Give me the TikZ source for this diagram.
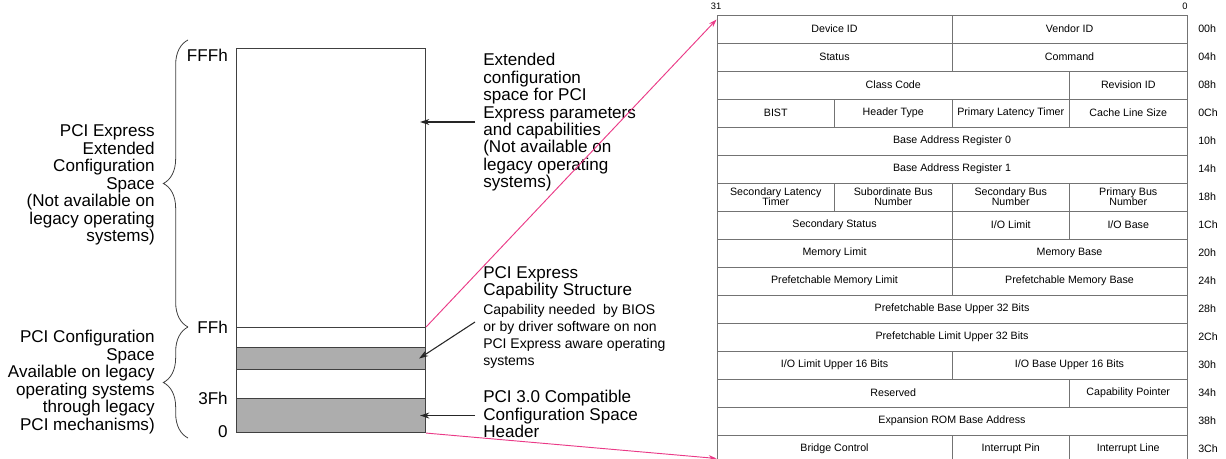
\documentclass[tikz,border=0pt]{standalone}
\usepackage{fontspec}
\setmainfont{Liberation Sans}
\usetikzlibrary{arrows.meta,calc,decorations.pathreplacing}

% one cell of the header table: row, first column, last column, text
\newcommand{\regcell}[4]{%
  \pgfmathsetmacro{\rcx}{717+(#2+#3)*58.75}%
  \pgfmathsetmacro{\rcy}{15+(#1+0.5)*28}%
  \pgfmathsetmacro{\rcw}{(#3-#2)*88.125}%
  \node[regcell, minimum width=\rcw pt] (r#1c#2) at (\rcx,\rcy) {#4};%
}

\begin{document}
\begin{tikzpicture}[x=0.75pt, y=-0.75pt,
  seg/.style={draw=black!75, line width=0.8pt, inner sep=0pt,
    minimum width=141.75pt, anchor=north west},
  regcell/.style={draw=black!55, line width=0.7pt, inner sep=0pt,
    minimum height=21pt, align=center, font=\fontsize{8}{7.6}\selectfont},
  offs/.style={font=\fontsize{8}{9}\selectfont, anchor=west, inner sep=0pt},
  bitno/.style={font=\fontsize{7}{8}\selectfont, inner sep=0pt},
  addr/.style={font=\fontsize{12.8}{13}\selectfont, anchor=east, inner sep=0pt},
  side/.style={font=\fontsize{12.8}{13.1}\selectfont, align=right, anchor=east, inner sep=0pt},
  note/.style={font=\fontsize{12.8}{13.1}\selectfont, align=left, anchor=north west,
    inner xsep=6pt, inner ysep=0pt},
  smallnote/.style={note, font=\fontsize{10.5}{12.8}\selectfont},
  brc/.style={decorate, decoration={brace, amplitude=18.5pt}, black!75, line width=0.6pt},
  pointer/.style={-{Stealth[length=7pt, width=4.5pt]}, black!85, line width=0.8pt},
  jump/.style={-{Stealth[length=6pt, width=4pt]}, linkpink, line width=0.7pt}]

\definecolor{linkpink}{RGB}{234,58,135}
\colorlet{memgray}{black!32}

\useasboundingbox (0,0) rectangle (1226,459);

%% memory map
\node[seg, minimum height=209.25pt] (ext) at (236,48) {};
\node[seg, minimum height=15pt] (w1) at (236,327) {};
\node[seg, fill=memgray, minimum height=16.5pt] (cap) at (236,347) {};
\node[seg, minimum height=21.75pt] (w2) at (236,369) {};
\node[seg, fill=memgray, minimum height=25.5pt] (hdr) at (236,398) {};

\node[addr] (aFFF) at (228,55) {FFFh};
\node[addr] (aFF) at (228,327) {FFh};
\node[addr] (a3F) at (228,398) {3Fh};
\node[addr] (a0) at (228,432) {0};

%% braces and their labels
\coordinate (bA) at (188,40);
\coordinate (bB) at (188,327);
\coordinate (bC) at (188,438);
\draw[brc] (bB) -- (bA);
\draw[brc] (bC) -- (bB);

\node[side] (extside) at (155,185)
  {PCI Express\\Extended\\Configuration\\Space\\(Not available on\\legacy operating\\systems)};
\node[side] (cfgside) at (155,382)
  {PCI Configuration\\Space\\Available on legacy\\operating systems\hspace*{3pt}\\through legacy\\PCI mechanisms)};

%% notes on the right of the map
\node[note] (extnote) at (475,53)
  {Extended\\configuration\\space for PCI\\Express parameters\\and capabilities\\(Not available on\\legacy operating\\systems)};
\node[note] (captitle) at (475,266) {PCI Express\\Capability Structure};
\node[smallnote] (capbody) at (475,304)
  {Capability needed\ \ by BIOS\\or by driver software on non\\PCI Express aware operating\\systems};
\node[note] (hdrnote) at (475,390) {PCI 3.0 Compatible\\Configuration Space\\Header};

\draw[pointer] (extnote.west |- 0,122) -- ($(ext.east |- 0,122)+(-6,0)$);
\draw[pointer] (capbody.west |- 0,322) -- ($(cap.east)+(-7,0)$);
\draw[pointer] (hdrnote.west |- hdr.east) -- ($(hdr.east)+(-6,0)$);

%% type 1 header table
\node[bitno] (bit31) at (716,6) {31};
\node[bitno] (bit0) at (1185,6) {0};

\regcell{0}{0}{2}{Device ID}
\regcell{0}{2}{4}{Vendor ID}
\regcell{1}{0}{2}{Status}
\regcell{1}{2}{4}{Command}
\regcell{2}{0}{3}{Class Code}
\regcell{2}{3}{4}{Revision ID}
\regcell{3}{0}{1}{BIST}
\regcell{3}{1}{2}{Header Type}
\regcell{3}{2}{3}{Primary Latency Timer}
\regcell{3}{3}{4}{Cache Line Size}
\regcell{4}{0}{4}{Base Address Register 0}
\regcell{5}{0}{4}{Base Address Register 1}
\regcell{6}{0}{1}{Secondary Latency\\Timer}
\regcell{6}{1}{2}{Subordinate Bus\\Number}
\regcell{6}{2}{3}{Secondary Bus\\Number}
\regcell{6}{3}{4}{Primary Bus\\Number}
\regcell{7}{0}{2}{Secondary Status}
\regcell{7}{2}{3}{I/O Limit}
\regcell{7}{3}{4}{I/O Base}
\regcell{8}{0}{2}{Memory Limit}
\regcell{8}{2}{4}{Memory Base}
\regcell{9}{0}{2}{Prefetchable Memory Limit}
\regcell{9}{2}{4}{Prefetchable Memory Base}
\regcell{10}{0}{4}{Prefetchable Base Upper 32 Bits}
\regcell{11}{0}{4}{Prefetchable Limit Upper 32 Bits}
\regcell{12}{0}{2}{I/O Limit Upper 16 Bits}
\regcell{12}{2}{4}{I/O Base Upper 16 Bits}
\regcell{13}{0}{3}{Reserved}
\regcell{13}{3}{4}{Capability Pointer}
\regcell{14}{0}{4}{Expansion ROM Base Address}
\regcell{15}{0}{2}{Bridge Control}
\regcell{15}{2}{3}{Interrupt Pin}
\regcell{15}{3}{4}{Interrupt Line}

\foreach \off [count=\i from 0] in {00h,04h,08h,0Ch,10h,14h,18h,1Ch,20h,24h,28h,2Ch,30h,34h,38h,3Ch}
  \node[offs] (off\i) at (1198,{15+(\i+0.5)*28}) {\off};

%% links from the map to the table
\draw[jump] (w1.north east) -- ($(r0c0.north west)+(0,5)$);
\draw[jump] (hdr.south east) -- ($(r15c0.south west)+(0,-5)$);

\end{tikzpicture}
\end{document}
